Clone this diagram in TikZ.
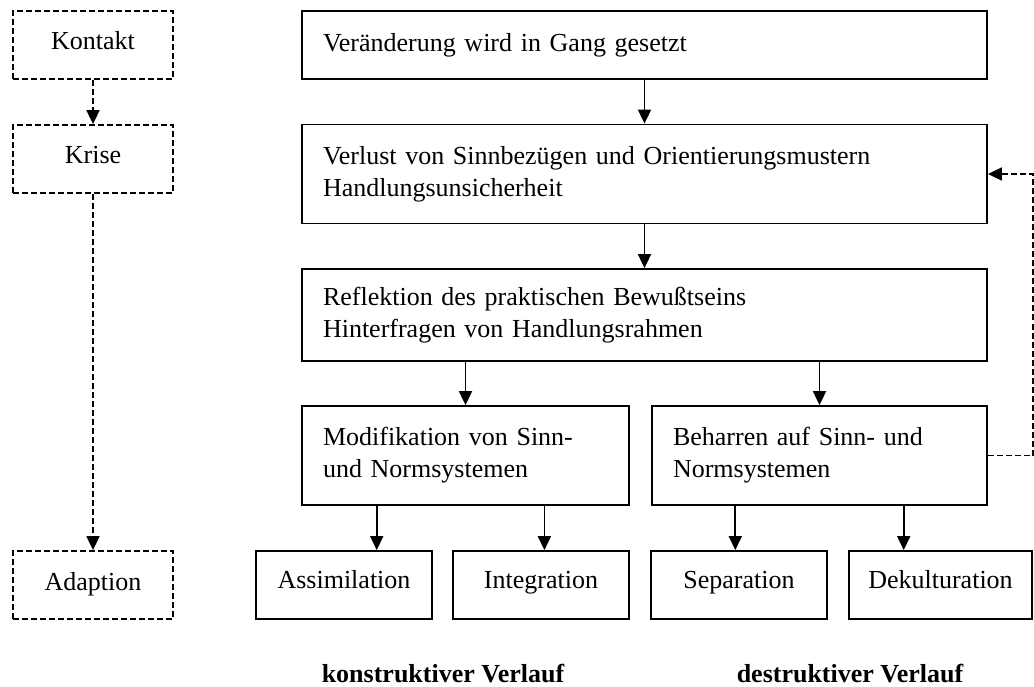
\documentclass[tikz,border=0pt]{standalone}
\usepackage{fontspec}
\setmainfont{Liberation Serif}
\usepackage{tikz}
\usetikzlibrary{
	arrows.meta,
	calc
}

\begin{document}
\begin{tikzpicture}[
			x=1bp,y=-1bp,
			>={Triangle[length=14bp,width=13bp]},
			line width=1.8bp,
			every node/.style={font=\fontsize{26bp}{32bp}\selectfont},
			phase/.style={draw,dash pattern=on 6bp off 3bp,minimum width=160bp,minimum height=68bp,inner sep=0pt,text height=19bp,text depth=9bp},
			mainbox/.style={draw,align=left,inner xsep=21bp,inner ysep=0pt,text width=643bp},
			halfbox/.style={draw,align=left,inner xsep=21bp,inner ysep=0pt,minimum height=99bp},
			endbox/.style={draw,minimum height=68bp,inner sep=0pt,text height=16bp,text depth=10bp},
			dashline/.style={dash pattern=on 6bp off 3bp}
			]
			
			\useasboundingbox (0,0) rectangle (1034,687);
			
			% Phases
			\node[phase] (kontakt) at (93,45){Kontakt};
			\node[phase] (krise) at (93,159){Krise};
			\node[phase] (adaption) at (93,585){Adaption};
			
			% Main flow
			\node[mainbox,minimum height=68bp] (veraend) at (644.5,45){Veränderung wird in Gang gesetzt};
			\node[mainbox,minimum height=99bp] (verlust) at (644.5,174){Verlust von Sinnbezügen und Orientierungsmustern\\Handlungsunsicherheit};
			\node[mainbox,minimum height=92bp] (reflex) at (644.5,315){Reflektion des praktischen Bewußtseins\\Hinterfragen von Handlungsrahmen};
			
			% Branches
			\node[halfbox,text width=285bp] (modif) at (465.5,455.5){Modifikation von Sinn-\\und Normsystemen};
			\node[halfbox,text width=293bp] (beharr) at (819.5,455.5){Beharren auf Sinn- und\\Normsystemen};
			
			% Outcomes
			\node[endbox,minimum width=176bp] (assim) at (344,585){Assimilation};
			\node[endbox,minimum width=176bp] (integ) at (541,585){Integration};
			\node[endbox,minimum width=176bp] (separ) at (739,585){Separation};
			\node[endbox,minimum width=183bp] (dekult) at (940.5,585){Dekulturation};
			
			% Connections
			\draw[->,dashline](kontakt)--(krise);
			\draw[->,dashline](krise)--(adaption);
			
			\draw[->](veraend)--(verlust);
			\draw[->](verlust)--(reflex);
			\draw[->](reflex.south -| modif.north)--(modif);
			\draw[->](reflex.south -| beharr.north)--(beharr);
			
			\foreach \from/\to/\f in {modif/assim/.23,modif/integ/.74,beharr/separ/.25,beharr/dekult/.75}
			{
				\coordinate (p) at ($(\from.south west)!\f!(\from.south east)$);
				\draw[->](p)--(p |- \to.north);
			}
			
			\draw[->,dashline](beharr.east)--++(45,0)|-(verlust.east);
			
			\node[font=\fontsize{26bp}{32bp}\selectfont\bfseries] (konstr) at (443,674){konstruktiver Verlauf};
			\node[font=\fontsize{26bp}{32bp}\selectfont\bfseries] (destr) at (850,674){destruktiver Verlauf};
			
		\end{tikzpicture}
\end{document}
